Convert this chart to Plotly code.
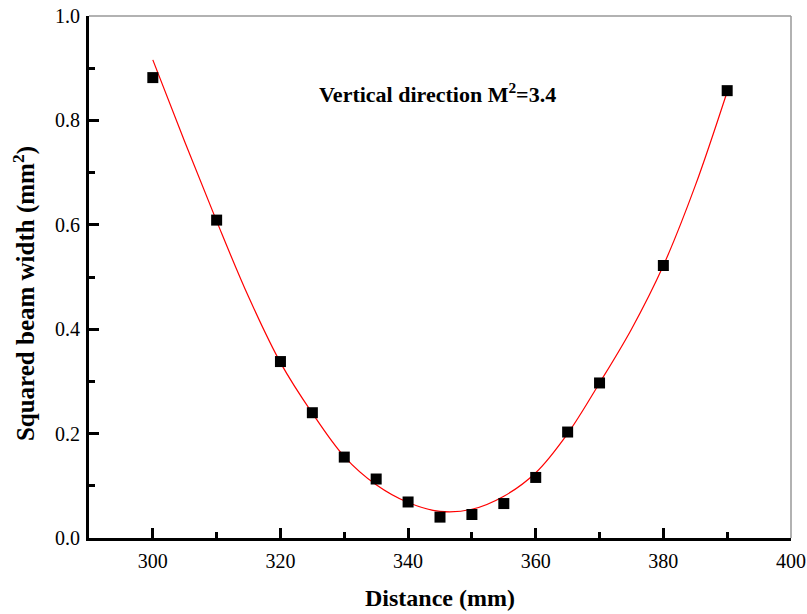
import plotly.graph_objects as go

# Measured data (distance in mm, squared beam width in mm^2)
distance = [300, 310, 320, 325, 330, 335, 340, 345, 350, 355, 360, 365, 370, 380, 390]
width_sq = [0.882, 0.609, 0.338, 0.240, 0.155, 0.113, 0.069, 0.040, 0.045, 0.066, 0.116, 0.203, 0.297, 0.522, 0.857]

# Fitted curve
fit_x = [300, 305, 310, 315, 320, 325, 330, 335, 340, 345, 350, 355, 360, 365, 370, 375, 380, 385, 390]
fit_y = [0.916, 0.759, 0.607, 0.462, 0.336, 0.239, 0.156, 0.102, 0.068, 0.051, 0.055, 0.080, 0.125, 0.200, 0.297, 0.400, 0.522, 0.675, 0.855]

x_tick_vals = [300, 320, 340, 360, 380, 400]
y_tick_vals = [0.0, 0.2, 0.4, 0.6, 0.8, 1.0]

FONT = "Liberation Serif"

fig = go.Figure()
fig.add_trace(go.Scatter(
    x=fit_x, y=fit_y, mode="lines",
    line=dict(color="#ff0000", width=1.2, shape="spline", smoothing=1.0),
    hoverinfo="skip", showlegend=False,
))
fig.add_trace(go.Scatter(
    x=distance, y=width_sq, mode="markers",
    marker=dict(symbol="square", size=11, color="black"),
    showlegend=False,
))

axis_common = dict(
    showline=True, linecolor="black", linewidth=3,
    ticks="inside", ticklen=10, tickwidth=2.5, tickcolor="black",
    showgrid=False, zeroline=False, automargin=False,
    ticklabeloverflow="allow",
    tickfont=dict(family=FONT, size=20, color="black"),
)

fig.update_xaxes(
    **axis_common,
    range=[290, 400], tickvals=x_tick_vals,
    minor=dict(ticks="inside", ticklen=6, tickwidth=2.5, tickcolor="black", dtick=10, tick0=290),
    ticklabelstandoff=3,
)
fig.update_yaxes(
    **axis_common,
    range=[0, 1.0], tickvals=y_tick_vals, tickformat=".1f",
    minor=dict(ticks="inside", ticklen=6, tickwidth=2.5, tickcolor="black", dtick=0.1, tick0=0),
    ticklabelstandoff=2,
)

# axis titles
fig.add_annotation(
    x=0.5, y=-0.115, xref="paper", yref="paper", xanchor="center", yanchor="middle",
    text="<b>Distance (mm)</b>", showarrow=False,
    font=dict(family=FONT, size=24, color="black"),
)
fig.add_annotation(
    x=-0.092, y=0.468, xref="paper", yref="paper", xanchor="center", yanchor="middle",
    text="<b>Squared beam width (mm<sup>2</sup>)</b>", showarrow=False, textangle=-90,
    font=dict(family=FONT, size=25, color="black"),
)

# thin gray top / right frame
fig.add_shape(type="line", xref="paper", yref="paper", x0=0, x1=1, y0=1, y1=1,
              line=dict(color="#999999", width=1.5))
fig.add_shape(type="line", xref="paper", yref="paper", x0=1, x1=1, y0=0, y1=1,
              line=dict(color="#999999", width=1.5))

fig.add_annotation(
    x=344.6, y=0.853, xref="x", yref="y",
    text="<b>Vertical direction M<sup>2</sup>=3.4</b>",
    showarrow=False, font=dict(family=FONT, size=22, color="black"),
)

fig.update_layout(
    width=807, height=614,
    margin=dict(l=89, r=16, t=16, b=76),
    plot_bgcolor="white", paper_bgcolor="white",
)

fig.write_html("out.html", config={"displayModeBar": False},
               post_script="document.body.style.margin='0';")
